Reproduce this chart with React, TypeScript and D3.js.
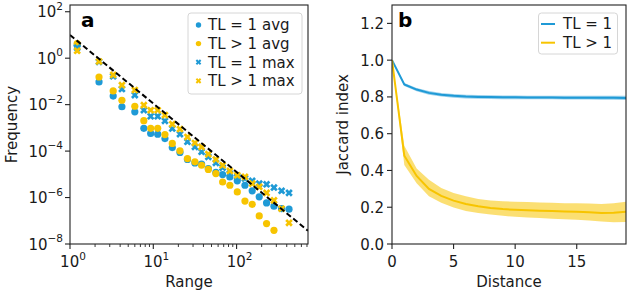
import React from "react";
import * as d3 from "d3";

// ---------- Panel a data (log10 of frequency) ----------
const rangeBins = [1.22, 2.23, 3.3, 4.2, 6.0, 7.7, 9.3, 11.3, 13.8, 16.9, 20.9, 25.7, 31.6, 38, 45.8, 56.4, 68, 83, 102, 126, 154, 187, 229, 281, 347, 426];
const tl1AvgLog = [0.55, -1.02, -1.63, -2.09, -2.31, -3.02, -3.24, -3.27, -3.46, -3.85, -4.06, -4.36, -4.51, -4.56, -4.75, -4.92, -5.01, -5.11, -5.28, -5.47, -5.71, -5.97, -6.23, -6.37, -6.48, -6.5];
const tlGt1AvgLog = [0.63, -0.81, -1.41, -1.81, -2.07, -2.69, -3.02, -3.02, -3.29, -3.67, -3.99, -4.32, -4.46, -4.61, -4.79, -4.97, -5.33, -5.47, -5.76, -6.15, -6.29, -6.79, -7.12, -7.41];
const tl1MaxLog = [0.45, -0.16, -0.78, -1.33, -1.59, -2.24, -2.5, -2.5, -2.7, -3.03, -3.27, -3.6, -3.82, -4.03, -4.25, -4.51, -4.71, -4.97, -5.11, -5.18, -5.28, -5.4, -5.43, -5.57, -5.71, -5.8];
const tlGt1MaxLog = [0.32, -0.14, -0.72, -1.16, -1.37, -2.02, -2.24, -2.24, -2.45, -2.84, -3.05, -3.39, -3.65, -3.82, -4.13, -4.36, -4.61, -4.85, -5.04, -5.11, -5.4, -5.54, -5.8, -6.12, -6.48, -7.09];
const fitCoef = 10;
const fitExp = -2.95;
const yTickExpA = [-8, -6, -4, -2, 0, 2];
const xTickExpA = [0, 1, 2];
const legendA = ["TL = 1 avg", "TL > 1 avg", "TL = 1 max", "TL > 1 max"];

// ---------- Panel b data ----------
const distance = [0, 1, 2, 3, 4, 5, 6, 7, 8, 9, 10, 11, 12, 13, 14, 15, 16, 17, 18, 19];
const tl1Mean = [1.0, 0.868, 0.84, 0.822, 0.812, 0.806, 0.802, 0.8, 0.799, 0.798, 0.798, 0.797, 0.797, 0.797, 0.796, 0.796, 0.796, 0.795, 0.795, 0.794];
const tl1Upper = [1.0, 0.876, 0.849, 0.832, 0.822, 0.816, 0.812, 0.81, 0.809, 0.808, 0.808, 0.807, 0.807, 0.807, 0.806, 0.806, 0.806, 0.806, 0.806, 0.806];
const tl1Lower = [1.0, 0.86, 0.831, 0.812, 0.802, 0.796, 0.792, 0.79, 0.789, 0.788, 0.788, 0.787, 0.787, 0.787, 0.786, 0.786, 0.786, 0.785, 0.784, 0.783];
const tlGt1Mean = [1.0, 0.48, 0.37, 0.3, 0.262, 0.236, 0.218, 0.205, 0.196, 0.19, 0.186, 0.183, 0.181, 0.179, 0.177, 0.176, 0.173, 0.168, 0.17, 0.175];
const tlGt1Upper = [1.0, 0.535, 0.41, 0.35, 0.305, 0.277, 0.26, 0.245, 0.237, 0.232, 0.23, 0.228, 0.226, 0.224, 0.222, 0.221, 0.22, 0.218, 0.222, 0.23];
const tlGt1Lower = [1.0, 0.43, 0.33, 0.26, 0.225, 0.198, 0.18, 0.168, 0.16, 0.153, 0.148, 0.144, 0.141, 0.138, 0.135, 0.132, 0.128, 0.122, 0.118, 0.12];
const yTicksB = [0, 0.2, 0.4, 0.6, 0.8, 1.0, 1.2];
const xTicksB = [0, 5, 10, 15];
const legendB = ["TL = 1", "TL > 1"];

const BLUE = "#1f9ad6";
const YELLOW = "#f7c400";
const TXT = "#1a1a1a";
const FONT = "DejaVu Sans";

export default function App() {
  // panel a geometry
  const aL = 70, aR = 308, aT = 5, aB = 244;
  const xA = d3.scaleLog().domain([1, 720]).range([aL, aR]);
  const yA = d3.scaleLog().domain([1e-8, Math.pow(10, 2.29)]).range([aB, aT]);
  // panel b geometry
  const bL = 392, bR = 626, bT = 5, bB = 244;
  const xB = d3.scaleLinear().domain([0, 19]).range([bL, bR]);
  const yB = d3.scaleLinear().domain([0, 1.3]).range([bB, bT]);

  const minorX: number[] = [];
  [1, 10, 100].forEach((dec) => {
    for (let k = 2; k <= 9; k++) {
      const v = dec * k;
      if (v <= 720) minorX.push(v);
    }
  });

  const crossSym = d3.symbol().type(d3.symbolCross).size(36)();
  const crossSymLeg = d3.symbol().type(d3.symbolCross).size(20)();

  const fitLine = d3.line<number>().x((v) => xA(v)).y((v) => yA(fitCoef * Math.pow(v, fitExp)));

  const lineB = d3.line<number>().x((_, i) => xB(distance[i])).y((v) => yB(v));
  const areaB = (up: number[], lo: number[]) =>
    d3.area<number>().x((_, i) => xB(distance[i])).y0((_, i) => yB(lo[i])).y1((_, i) => yB(up[i]))(up) || "";

  const circles = (vals: number[], color: string) =>
    vals.map((lv, i) => (
      <circle key={i} cx={xA(rangeBins[i])} cy={yA(Math.pow(10, lv))} r={3.6} fill={color} />
    ));
  const crosses = (vals: number[], color: string) =>
    vals.map((lv, i) => (
      <path key={i} d={crossSym || ""} fill={color}
        transform={`translate(${xA(rangeBins[i])},${yA(Math.pow(10, lv))}) rotate(45)`} />
    ));

  const legRowsA = [25, 43.6, 62.2, 80.8];
  const legRowsB = [24, 42.7];

  return (
    <svg width={628} height={297} style={{ position: "absolute", left: 0, top: 0, background: "#fff" }}
      fontFamily={FONT}>
      <defs>
        <clipPath id="clipA"><rect x={aL} y={aT} width={aR - aL} height={aB - aT} /></clipPath>
        <clipPath id="clipB"><rect x={bL} y={bT} width={bR - bL} height={bB - bT} /></clipPath>
      </defs>
      <rect width={628} height={297} fill="#fff" />

      {/* ---------- Panel a ---------- */}
      <g clipPath="url(#clipA)">
        {circles(tl1AvgLog, BLUE)}
        {circles(tlGt1AvgLog, YELLOW)}
        {crosses(tl1MaxLog, BLUE)}
        {crosses(tlGt1MaxLog, YELLOW)}
        <path d={fitLine([1, 720]) || ""} stroke="#000" strokeWidth={2} strokeDasharray="5.5,3" fill="none" />
      </g>
      <rect x={aL} y={aT} width={aR - aL} height={aB - aT} fill="none" stroke="#222" strokeWidth={1.1} />
      {yTickExpA.map((e) => {
        const y = yA(Math.pow(10, e));
        return (
          <g key={e}>
            <line x1={aL - 5} x2={aL} y1={y} y2={y} stroke="#222" strokeWidth={1.1} />
            <text x={aL - 7} y={y + 5.5} textAnchor="end" fontSize={15} fill={TXT}>
              10<tspan dy={-7.5} fontSize={10.5}>{e < 0 ? "\u2212" + Math.abs(e) : String(e)}</tspan>
            </text>
          </g>
        );
      })}
      {xTickExpA.map((e) => {
        const x = xA(Math.pow(10, e));
        return (
          <g key={e}>
            <line x1={x} x2={x} y1={aB} y2={aB + 5} stroke="#222" strokeWidth={1.1} />
            <text x={x + 3} y={267} textAnchor="middle" fontSize={15} fill={TXT}>
              10<tspan dy={-7.5} fontSize={10.5}>{String(e)}</tspan>
            </text>
          </g>
        );
      })}
      {minorX.map((v) => (
        <line key={v} x1={xA(v)} x2={xA(v)} y1={aB} y2={aB + 3} stroke="#222" strokeWidth={0.9} />
      ))}
      <text x={(aL + aR) / 2} y={287} textAnchor="middle" fontSize={15} fill={TXT}>Range</text>
      <text transform={`translate(17,${(aT + aB) / 2}) rotate(-90)`} textAnchor="middle" fontSize={15} fill={TXT}>Frequency</text>
      <text x={81} y={27} fontSize={20} fontWeight="bold" fill="#000">a</text>

      {/* legend a */}
      <rect x={188} y={13} width={114} height={81} rx={3} fill="#fff" fillOpacity={0.85} stroke="#d6d6d6" strokeWidth={1} />
      {legendA.map((lab, i) => {
        const y = legRowsA[i];
        const col = i % 2 === 0 ? BLUE : YELLOW;
        return (
          <g key={lab}>
            {i < 2 ? (
              <circle cx={198.5} cy={y} r={2.7} fill={col} />
            ) : (
              <path d={crossSymLeg || ""} fill={col} transform={`translate(198.5,${y}) rotate(45)`} />
            )}
            <text x={208} y={y + 5.3} fontSize={15} fill={TXT}>{lab}</text>
          </g>
        );
      })}

      {/* ---------- Panel b ---------- */}
      <g clipPath="url(#clipB)">
        <path d={areaB(tl1Upper, tl1Lower)} fill={BLUE} fillOpacity={0.45} />
        <path d={areaB(tlGt1Upper, tlGt1Lower)} fill={YELLOW} fillOpacity={0.55} />
        <path d={lineB(tl1Mean) || ""} fill="none" stroke={BLUE} strokeWidth={2} />
        <path d={lineB(tlGt1Mean) || ""} fill="none" stroke={YELLOW} strokeWidth={2} />
      </g>
      <rect x={bL} y={bT} width={bR - bL} height={bB - bT} fill="none" stroke="#222" strokeWidth={1.1} />
      {yTicksB.map((v) => {
        const y = yB(v);
        return (
          <g key={v}>
            <line x1={bL - 5} x2={bL} y1={y} y2={y} stroke="#222" strokeWidth={1.1} />
            <text x={bL - 8} y={y + 5.5} textAnchor="end" fontSize={15} fill={TXT}>{v.toFixed(1)}</text>
          </g>
        );
      })}
      {xTicksB.map((v) => {
        const x = xB(v);
        return (
          <g key={v}>
            <line x1={x} x2={x} y1={bB} y2={bB + 5} stroke="#222" strokeWidth={1.1} />
            <text x={x} y={267} textAnchor="middle" fontSize={15} fill={TXT}>{String(v)}</text>
          </g>
        );
      })}
      <text x={(bL + bR) / 2} y={287} textAnchor="middle" fontSize={15} fill={TXT}>Distance</text>
      <text transform={`translate(348,${(bT + bB) / 2}) rotate(-90)`} textAnchor="middle" fontSize={15} fill={TXT}>Jaccard index</text>
      <text x={398} y={27} fontSize={20} fontWeight="bold" fill="#000">b</text>

      {/* legend b */}
      <rect x={538.5} y={13} width={79} height={41} rx={3} fill="#fff" fillOpacity={0.85} stroke="#d6d6d6" strokeWidth={1} />
      {legendB.map((lab, i) => {
        const y = legRowsB[i];
        const col = i === 0 ? BLUE : YELLOW;
        return (
          <g key={lab}>
            <line x1={541} x2={555} y1={y} y2={y} stroke={col} strokeWidth={2} />
            <text x={563} y={y + 5.3} fontSize={15} fill={TXT}>{lab}</text>
          </g>
        );
      })}
    </svg>
  );
}
